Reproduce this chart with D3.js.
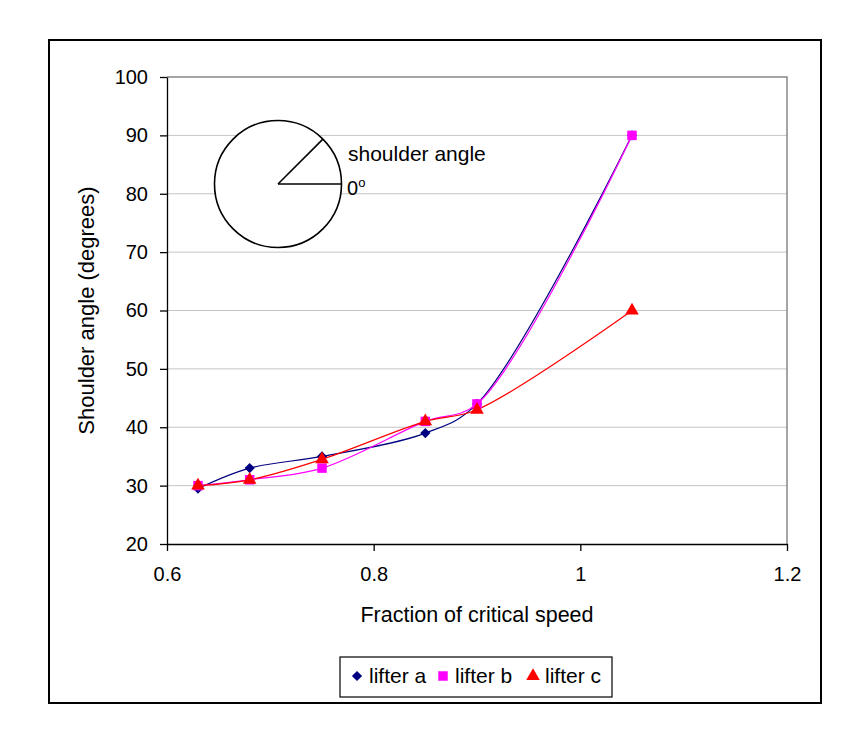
<!doctype html>
<html lang="en">
<head>
    <meta charset="UTF-8">
    <title>Shoulder angle</title>
    <script src="https://cdn.jsdelivr.net/npm/d3@7"></script>
    <style>
        body { margin: 0; background: #fff; }
        text { font-family: Arial, "Liberation Sans", sans-serif; fill: #000; }
    </style>
</head>
<body>
    <svg width="861" height="743"></svg>
    <script>
        // data
        const speed = [0.63, 0.68, 0.75, 0.85, 0.90, 1.05];
        const lifterA = [29.5, 33, 35, 39, 44, 90];
        const lifterB = [30, 31, 33, 41, 44, 90];
        const lifterC = [30, 31, 34.5, 41, 43, 60];
        const seriesNames = ["lifter a", "lifter b", "lifter c"];
        const xTicks = [0.6, 0.8, 1, 1.2];
        const yTicks = [20, 30, 40, 50, 60, 70, 80, 90, 100];

        const colors = ["#000080", "#ff00ff", "#ff0000"];
        const symbols = [d3.symbolSquare, d3.symbolSquare, d3.symbolTriangle];
        const symSize = [52, 90, 80];
        const symRot = [45, 0, 0];

        var svg = d3.select("svg");
        svg.append("rect").attr("width", 861).attr("height", 743).attr("fill", "#fff");

        // outer chart frame
        svg.append("rect")
            .attr("x", 49).attr("y", 40).attr("width", 772).attr("height", 663)
            .attr("fill", "none").attr("stroke", "#000").attr("stroke-width", 2);

        var pLeft = 167, pRight = 787, pTop = 77, pBottom = 544;

        var x = d3.scaleLinear().domain([0.6, 1.2]).range([pLeft, pRight]);
        var y = d3.scaleLinear().domain([20, 100]).range([pBottom, pTop]);

        // gridlines
        svg.append("g").selectAll("line")
            .data(yTicks.filter(d => d > 20 && d < 100))
            .enter().append("line")
            .attr("x1", pLeft).attr("x2", pRight)
            .attr("y1", d => y(d)).attr("y2", d => y(d))
            .attr("stroke", "#c4c4c4").attr("stroke-width", 1);

        // plot area top / right border
        svg.append("path")
            .attr("d", "M" + pLeft + "," + pTop + "H" + pRight + "V" + pBottom)
            .attr("fill", "none").attr("stroke", "#888").attr("stroke-width", 1.5);

        // axes
        var xAxis = svg.append("g")
            .attr("transform", "translate(0," + pBottom + ")")
            .call(d3.axisBottom(x).tickValues(xTicks).tickSize(7).tickSizeOuter(0).tickPadding(16)
                .tickFormat(d3.format("")));
        var yAxis = svg.append("g")
            .attr("transform", "translate(" + pLeft + ",0)")
            .call(d3.axisLeft(y).tickValues(yTicks).tickSize(7).tickSizeOuter(0).tickPadding(12));

        [xAxis, yAxis].forEach(function (a) {
            a.selectAll("path, line").attr("stroke", "#000").attr("stroke-width", 1.3);
            a.selectAll("text").style("font-size", "20px")
                .style("font-family", "Arial, 'Liberation Sans', sans-serif").attr("fill", "#000");
        });

        // axis titles
        svg.append("text")
            .attr("x", (pLeft + pRight) / 2).attr("y", 622)
            .attr("text-anchor", "middle").style("font-size", "21.5px")
            .text("Fraction of critical speed");
        svg.append("text")
            .attr("transform", "translate(94," + (pTop + pBottom) / 2 + ") rotate(-90)")
            .attr("text-anchor", "middle").style("font-size", "22px")
            .text("Shoulder angle (degrees)");

        // inset diagram
        var cx = 278, cy = 184, r = 63.5;
        var inset = svg.append("g").attr("stroke", "#000").attr("stroke-width", 1.6);
        inset.append("circle").attr("cx", cx).attr("cy", cy).attr("r", r).attr("fill", "#fff");
        inset.append("line").attr("x1", cx).attr("y1", cy).attr("x2", cx + r).attr("y2", cy);
        inset.append("line").attr("x1", cx).attr("y1", cy)
            .attr("x2", cx + r * Math.cos(Math.PI / 4)).attr("y2", cy - r * Math.sin(Math.PI / 4));
        svg.append("text").attr("x", 348).attr("y", 161).style("font-size", "21px").text("shoulder angle");
        var zero = svg.append("text").attr("x", 347).attr("y", 195).style("font-size", "20px");
        zero.append("tspan").text("0");
        zero.append("tspan").attr("dy", -8).style("font-size", "13px").text("o");

        // series
        var allSeries = [lifterA, lifterB, lifterC];
        var line = d3.line()
            .x((d, i) => x(speed[i]))
            .y(d => y(d))
            .curve(d3.curveCatmullRom.alpha(0.5));

        allSeries.forEach(function (vals, k) {
            svg.append("path")
                .attr("d", line(vals))
                .attr("fill", "none")
                .attr("stroke", colors[k])
                .attr("stroke-width", 1.2);
        });
        allSeries.forEach(function (vals, k) {
            svg.append("g").selectAll("path")
                .data(vals).enter().append("path")
                .attr("transform", (d, i) => "translate(" + x(speed[i]) + "," + y(d) + ") rotate(" + symRot[k] + ")")
                .attr("d", d3.symbol().type(symbols[k]).size(symSize[k]))
                .attr("fill", colors[k]);
        });

        // legend
        var lg = svg.append("g");
        lg.append("rect").attr("x", 340).attr("y", 657).attr("width", 272).attr("height", 40)
            .attr("fill", "#fff").attr("stroke", "#000").attr("stroke-width", 1.2);
        var legX = [357, 443, 533];
        seriesNames.forEach(function (name, k) {
            lg.append("path")
                .attr("transform", "translate(" + legX[k] + ",676) rotate(" + symRot[k] + ")")
                .attr("d", d3.symbol().type(symbols[k]).size(symSize[k]))
                .attr("fill", colors[k]);
            lg.append("text").attr("x", legX[k] + 12).attr("y", 683)
                .style("font-size", "21px").text(name);
        });
    </script>
</body>
</html>
